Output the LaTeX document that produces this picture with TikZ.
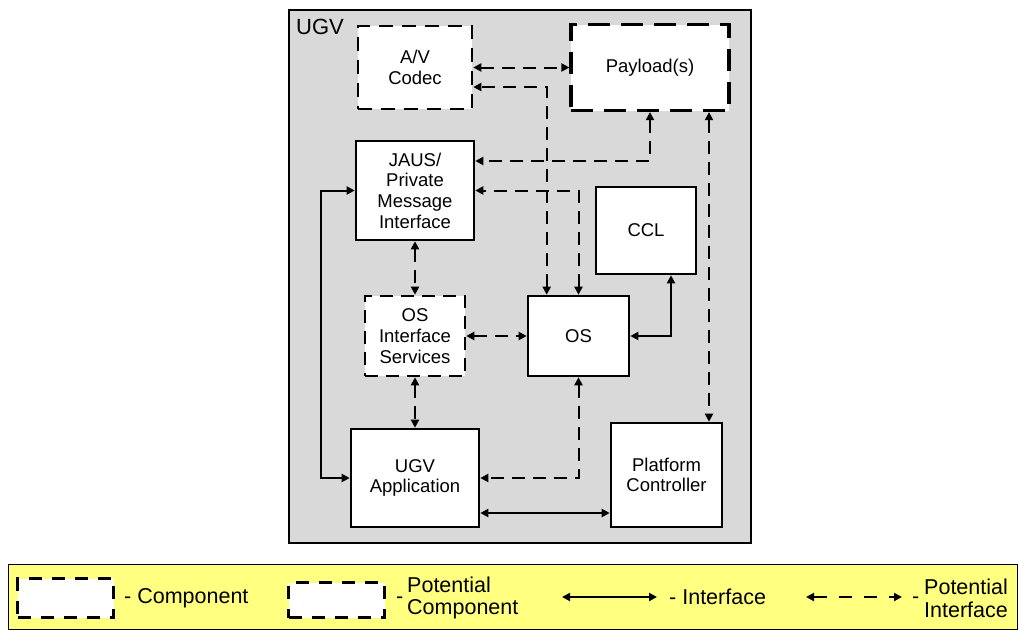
\documentclass[tikz,border=0pt]{standalone}
\usepackage{fontspec}
\setmainfont{Liberation Sans}
\usetikzlibrary{arrows.meta}
\definecolor{ugvgray}{RGB}{217,217,217}
\definecolor{legyellow}{RGB}{255,255,128}
\newcommand\boxfont{\fontsize{18.5}{20.7}\selectfont}
\newcommand\legfont{\fontsize{21.5}{22.7}\selectfont}
\begin{document}
\begin{tikzpicture}[x=1pt,y=-1pt,
  comp/.style={draw, line width=2.6pt, fill=white, align=center, font=\boxfont, inner sep=0pt},
  pcomp/.style={comp, dash pattern=on 14pt off 9pt},
  tip/.tip={Triangle[length=8pt,width=8pt]},
  iface/.style={line width=2pt, tip-tip},
  piface/.style={iface, dash pattern=on 13pt off 8pt},
  lbl/.style={inner sep=0pt, font=\legfont, align=left}]
\useasboundingbox (0,0) rectangle (1019,629);
% outer UGV box
\draw[line width=2.5pt, fill=ugvgray] (289,10) rectangle (751,543);
\node[inner sep=0pt, anchor=base west, font=\fontsize{22}{24}\selectfont] (ugvlabel) at (296,34) {UGV};
% components
\node[pcomp, minimum width=114pt, minimum height=83pt] (av) at (415,67.5) {A/V\\Codec};
\node[comp, dash pattern=on 22pt off 11pt, line width=3.2pt, minimum width=158pt, minimum height=86pt] (pay) at (650,67.5) {Payload(s)};
\node[comp, minimum width=118pt, minimum height=99pt] (jaus) at (415,190.5) {JAUS/\\Private\\Message\\Interface};
\node[comp, minimum width=100pt, minimum height=87pt] (ccl) at (646,230.5) {CCL};
\node[pcomp, dash pattern=on 13pt off 8pt, minimum width=100pt, minimum height=80pt] (osis) at (415,336) {OS\\Interface\\Services};
\node[comp, minimum width=101pt, minimum height=80pt] (os) at (578.5,336) {OS};
\node[comp, minimum width=128pt, minimum height=98pt] (app) at (415,478) {UGV\\Application};
\node[comp, minimum width=111pt, minimum height=104pt] (plat) at (666.5,475) {Platform\\Controller};
% connectors
\draw[piface] (av.east) -- (pay.west);
\draw[piface] ([xshift=20pt]os.north west) |- ([yshift=-19.5pt]av.east);
\draw[piface] (pay.south) |- ([yshift=29.5pt]jaus.east);
\draw[piface] (os.north) |- (jaus.east);
\draw[iface] (os.east) -| ([xshift=25pt]ccl.south);
\draw[piface] ([xshift=59pt]pay.south) -- ([xshift=42.5pt]plat.north);
\draw[piface] (jaus.south) -- (osis.north);
\draw[piface] (osis.east) -- (os.west);
\draw[piface] (osis.south) -- (app.north);
\draw[piface] (os.south) |- (app.east);
\draw[iface] (jaus.west) -- ++(-34,0) |- (app.west);
\draw[iface] ([yshift=-35pt]app.east) -- ([yshift=-35pt]app.east -| plat.west);
% legend
\draw[line width=0.8pt, fill=legyellow] (8,564) rectangle (1017,629.5);
\node[draw, fill=white, line width=2.6pt, dash pattern=on 13pt off 10pt, minimum width=96pt, minimum height=39pt, inner sep=0pt] (lcomp) at (65.5,598) {};
\node[lbl, anchor=west] (lcomptext) at (124,598) {- Component};
\node[draw, fill=white, line width=2.6pt, dash pattern=on 13pt off 10pt, minimum width=96pt, minimum height=35pt, inner sep=0pt] (lpcomp) at (336.5,600) {};
\node[lbl, anchor=west] (lpdash) at (396,600) {-};
\node[lbl, anchor=west] (lpcomptext) at (407,598) {Potential\\Component};
\coordinate (lia) at (562,597);
\coordinate (lib) at (657,597);
\draw[iface] (lia) -- (lib);
\node[lbl, anchor=west] (litext) at (669,597) {- Interface};
\coordinate (lpa) at (806,597);
\coordinate (lpb) at (902,597);
\draw[iface, dash pattern=on 13pt off 12pt] (lpa) -- (lpb);
\node[lbl, anchor=west] (lpidash) at (912,600) {-};
\node[lbl, anchor=west] (lpitext) at (924,598) {Potential\\Interface};
\end{tikzpicture}
\end{document}
